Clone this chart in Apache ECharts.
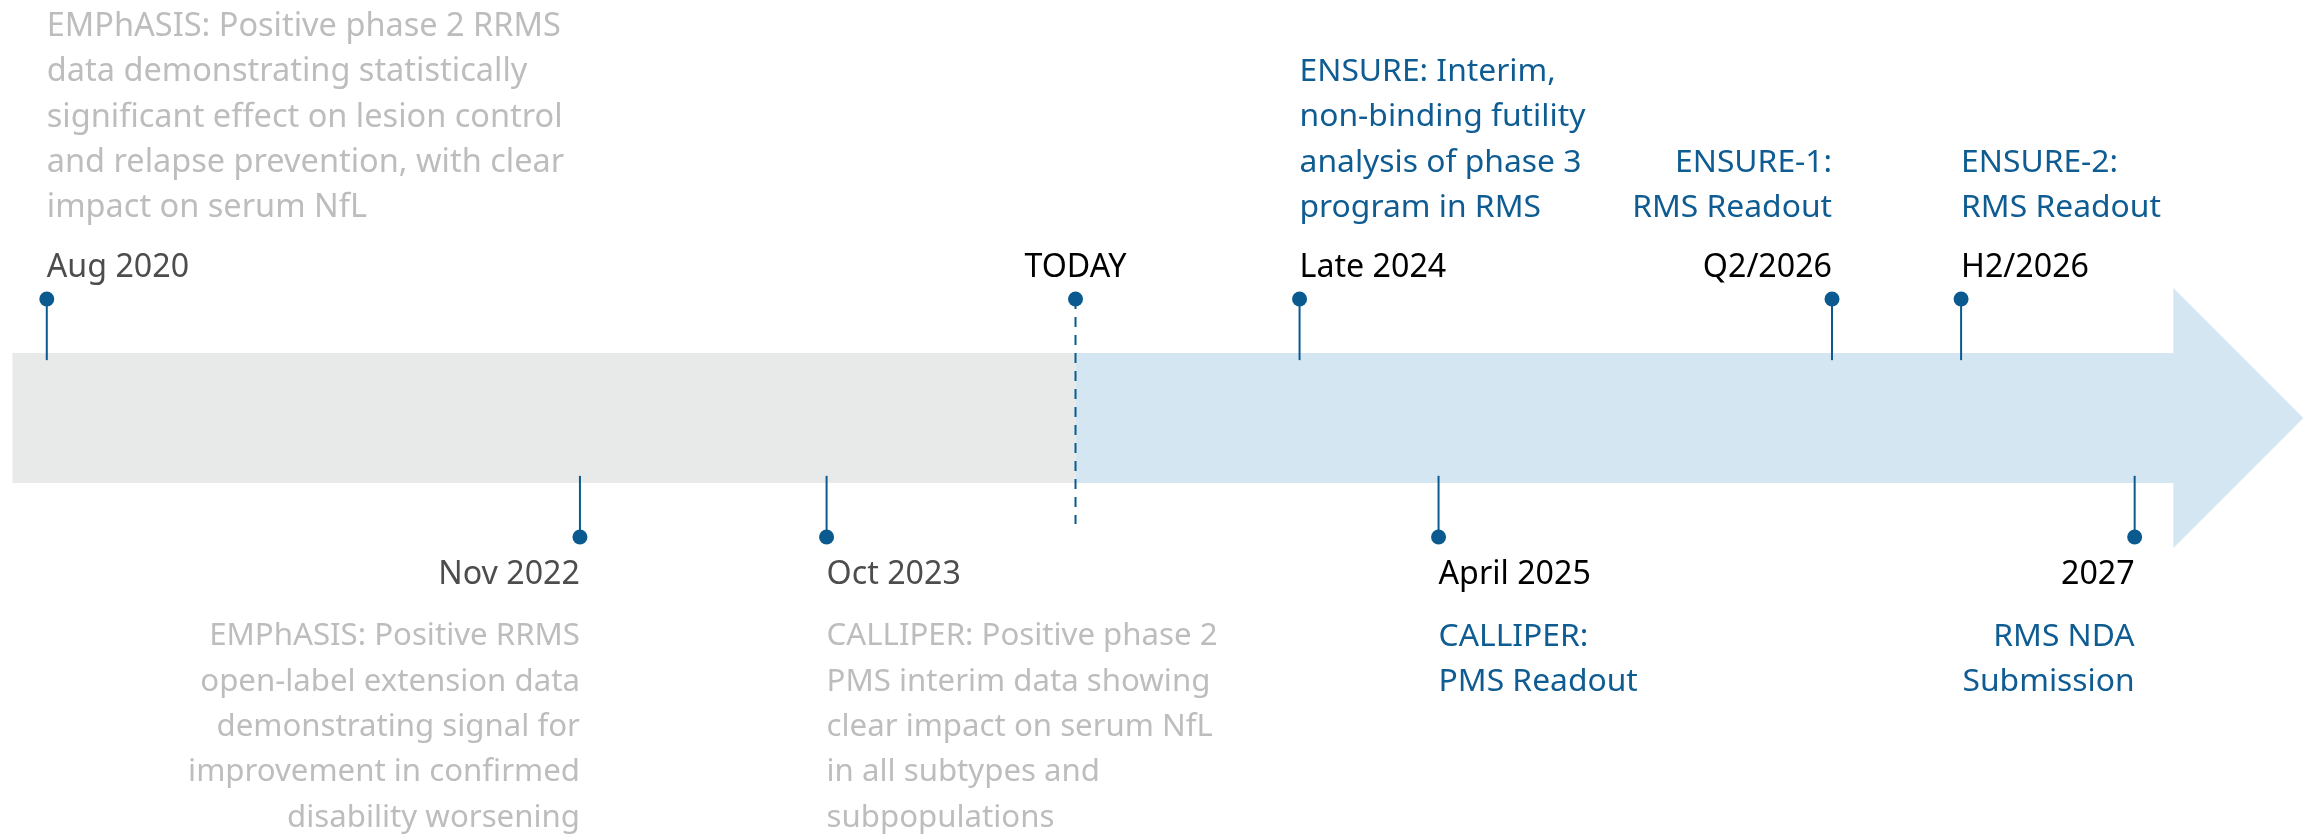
<!DOCTYPE html>
<html>
<head>
<meta charset="utf-8">
<script src="https://cdn.jsdelivr.net/npm/echarts@6/dist/echarts.min.js"></script>
<style>
html,body{margin:0;padding:0;background:#fff;}
#chart{width:2305px;height:836px;}
</style>
</head>
<body>
<div id="chart"></div>
<script>
// ---------- DATA ----------
const dates = ['Aug 2020', 'Nov 2022', 'Oct 2023', 'TODAY', 'Late 2024', 'April 2025', 'Q2/2026', 'H2/2026', '2027'];
// position of each milestone along the (schematic) timeline, 0..100
const positions = [2.03, 25.16, 35.86, 46.66, 56.38, 62.41, 79.48, 85.08, 92.61];
const status = ['past', 'past', 'past', 'today', 'future', 'future', 'future', 'future', 'future'];
const descriptions = [
  'EMPhASIS: Positive phase 2 RRMS\ndata demonstrating statistically\nsignificant effect on lesion control\nand relapse prevention, with clear\nimpact on serum NfL',
  'EMPhASIS: Positive RRMS\nopen-label extension data\ndemonstrating signal for\nimprovement in confirmed\ndisability worsening',
  'CALLIPER: Positive phase 2\nPMS interim data showing\nclear impact on serum NfL\nin all subtypes and\nsubpopulations',
  '',
  'ENSURE: Interim,\nnon-binding futility\nanalysis of phase 3\nprogram in RMS',
  'CALLIPER:\nPMS Readout',
  'ENSURE-1:\nRMS Readout',
  'ENSURE-2:\nRMS Readout',
  'RMS NDA\nSubmission'
];
// timeline phases: [start, end]
const phaseNames = ['past', 'future'];
const phaseStart = [0.54, 46.66];
const phaseEnd = [46.66, 94.29];
const arrowTip = 99.93;

// ---------- LAYOUT ----------
const labelSide = ['above', 'below', 'below', 'above', 'above', 'below', 'above', 'above', 'below'];
const labelAlign = ['left', 'right', 'left', 'center', 'left', 'left', 'right', 'left', 'right'];
const descFontSize = [32.5, 31.2, 31.2, 31.8, 31.8, 31.8, 31.8, 31.8, 31.8];
const BAND = 1, HEAD = 2, DOT = 1.83, PIN_INNER = 0.89, TODAY_END = -1.63, YMAX = 6.4308;
const FONT = '"Noto Sans", "Open Sans", sans-serif';
const FS_DATE = 32.2, LH = 45.3;
const C = {
  past: '#E8EAEA', future: '#D4E6F2', pin: '#0A5A8F',
  dateDark: '#4D4D4D', dateBlack: '#000000', descGrey: '#BDBDBD', descBlue: '#0F5C92'
};

const chart = echarts.init(document.getElementById('chart'), null, {renderer: 'canvas'});

const option = {
  animation: false,
  backgroundColor: '#ffffff',
  grid: {left: 0, right: 0, top: 0, bottom: 0, containLabel: false},
  xAxis: {type: 'value', min: 0, max: 100, show: false},
  yAxis: {type: 'value', min: -YMAX, max: YMAX, show: false},
  series: [
    {
      type: 'custom',
      name: 'timeline',
      data: phaseNames.map((n, i) => [phaseStart[i], phaseEnd[i], i]),
      encode: {x: [0, 1]},
      renderItem: function (params, api) {
        const i = api.value(2);
        const s = api.value(0), e = api.value(1);
        const tl = api.coord([s, BAND]), br = api.coord([e, -BAND]);
        let pts;
        if (phaseNames[i] === 'future') {
          const ht = api.coord([e, HEAD]), hb = api.coord([e, -HEAD]);
          const tip = api.coord([arrowTip, 0]);
          pts = [[tl[0], tl[1]], [br[0], tl[1]], [ht[0], ht[1]], [tip[0], tip[1]], [hb[0], hb[1]], [br[0], br[1]], [tl[0], br[1]]];
        } else {
          pts = [[tl[0], tl[1]], [br[0], tl[1]], [br[0], br[1]], [tl[0], br[1]]];
        }
        return {type: 'polygon', shape: {points: pts}, style: {fill: C[phaseNames[i]]}};
      },
      silent: true,
      z: 1
    },
    {
      type: 'custom',
      name: 'milestones',
      data: positions.map((p, i) => [p, 0, i]),
      encode: {x: 0, y: 1},
      renderItem: function (params, api) {
        const i = api.value(2);
        const p = api.value(0);
        const up = labelSide[i] === 'above';
        const sgn = up ? 1 : -1;
        const dot = api.coord([p, sgn * DOT]);
        const isToday = status[i] === 'today';
        const inner = api.coord([p, isToday ? TODAY_END : sgn * PIN_INNER]);
        const children = [];
        children.push({
          type: 'line',
          shape: {x1: dot[0], y1: dot[1], x2: inner[0], y2: inner[1]},
          style: {stroke: C.pin, lineWidth: 2, lineDash: isToday ? [10, 8] : null},
          z2: 5
        });
        children.push({
          type: 'circle',
          shape: {cx: dot[0], cy: dot[1], r: 7.5},
          style: {fill: C.pin},
          z2: 6
        });
        const past = status[i] === 'past';
        const dateColor = past ? C.dateDark : C.dateBlack;
        const descColor = past ? C.descGrey : C.descBlue;
        children.push({
          type: 'text',
          style: {
            text: dates[i], x: dot[0], y: up ? dot[1] - 31 : dot[1] + 38,
            align: labelAlign[i], verticalAlign: 'middle',
            font: FS_DATE + 'px ' + FONT, fill: dateColor
          },
          z2: 7
        });
        if (descriptions[i]) {
          children.push({
            type: 'text',
            style: {
              text: descriptions[i], x: dot[0], y: up ? dot[1] - 68.5 : dot[1] + 77,
              align: labelAlign[i], verticalAlign: up ? 'bottom' : 'top',
              font: descFontSize[i] + 'px ' + FONT, fill: descColor, lineHeight: LH
            },
            z2: 7
          });
        }
        return {type: 'group', children: children};
      },
      silent: true,
      z: 3
    }
  ]
};
chart.setOption(option);
</script>
</body>
</html>
